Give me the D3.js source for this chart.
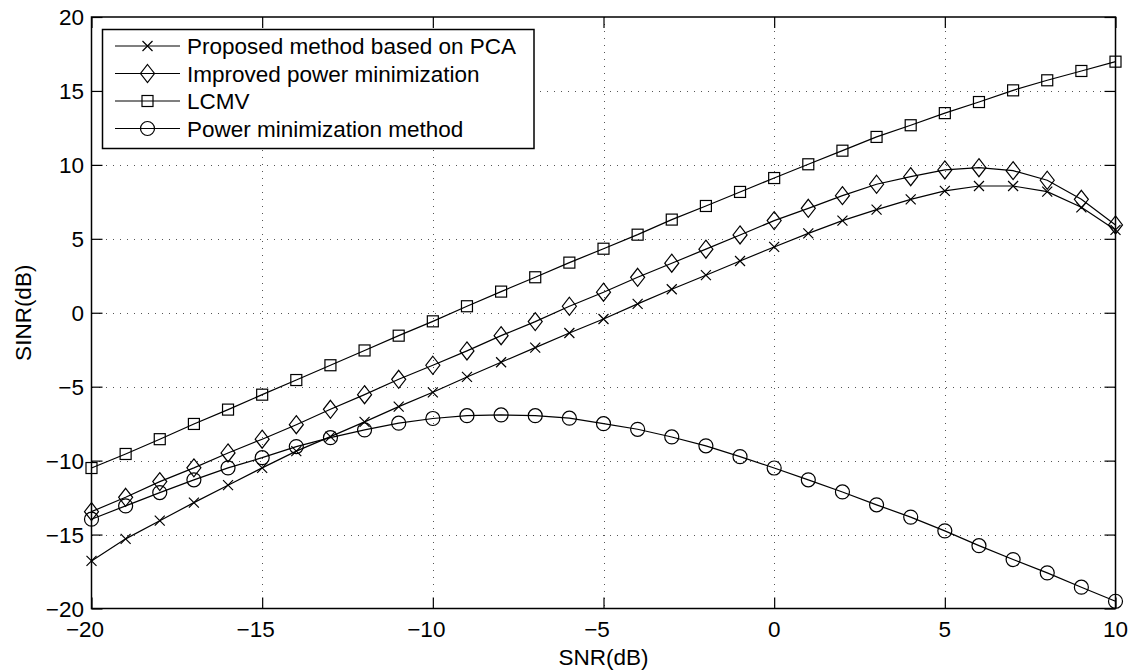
<!DOCTYPE html>
<html>
    <head>
        <meta charset="utf-8" />
        <title>SINR vs SNR</title>
        <script src="https://d3js.org/d3.v7.min.js"></script>
        <style>
         body { margin: 0; background: #fff; }
         svg { font-family: "Liberation Sans", Arial, Helvetica, sans-serif; }
         .grid line { stroke: #555; stroke-width: 1; stroke-dasharray: 1,6; shape-rendering: crispEdges; }
         .series { fill: none; stroke: #000; stroke-width: 1.2; }
         .marker { fill: none; stroke: #000; stroke-width: 1.2; }
        </style>
    </head>
    <body>
        <svg id="chart" width="1136" height="670"></svg>
        <script>

         // SNR values (x axis)
         var snr = d3.range(-20, 11, 1);

         var proposedPCA = [-16.78, -15.29, -14.06, -12.84, -11.66, -10.49, -9.36, -8.38, -7.38, -6.35,
                            -5.38, -4.34, -3.35, -2.36, -1.37, -0.42, 0.6, 1.59, 2.54, 3.5,
                            4.45, 5.37, 6.23, 6.97, 7.67, 8.24, 8.57, 8.57, 8.19, 7.13, 5.6];

         var improvedPowerMin = [-13.45, -12.48, -11.42, -10.49, -9.48, -8.55, -7.57, -6.53, -5.54, -4.5,
                                 -3.55, -2.58, -1.55, -0.6, 0.44, 1.39, 2.4, 3.35, 4.3, 5.26,
                                 6.23, 7.06, 7.92, 8.69, 9.2, 9.66, 9.81, 9.61, 8.96, 7.67, 5.94];

         var lcmv = [-10.5, -9.55, -8.55, -7.52, -6.55, -5.54, -4.55, -3.55, -2.55, -1.55,
                     -0.58, 0.44, 1.43, 2.4, 3.39, 4.33, 5.28, 6.3, 7.22, 8.17,
                     9.11, 10.04, 10.96, 11.89, 12.68, 13.5, 14.25, 15.04, 15.72, 16.35, 16.98];

         var powerMin = [-13.96, -13.06, -12.16, -11.3, -10.49, -9.8, -9.05, -8.45, -7.92, -7.47,
                         -7.15, -6.96, -6.91, -6.96, -7.13, -7.5, -7.88, -8.4, -9.0, -9.73,
                         -10.5, -11.3, -12.12, -12.99, -13.82, -14.75, -15.75, -16.69, -17.59, -18.56, -19.51];

         var seriesNames = ["Proposed method based on PCA", "Improved power minimization", "LCMV", "Power minimization method"];
         var seriesMarkers = ["x", "d", "s", "o"];
         var seriesValues = [proposedPCA, improvedPowerMin, lcmv, powerMin];

         var xTicks = [-20, -15, -10, -5, 0, 5, 10];
         var yTicks = [-20, -15, -10, -5, 0, 5, 10, 15, 20];

         var svg = d3.select("#chart"),
             width = +svg.attr("width"),
             height = +svg.attr("height"),
             margin = {top: 17, right: 20.5, bottom: 61.5, left: 91.5},
             fontSize = 22.5;

         var x = d3.scaleLinear().domain([-20, 10]).range([margin.left, width - margin.right]);
         var y = d3.scaleLinear().domain([-20, 20]).range([height - margin.bottom, margin.top]);

         var x0 = x.range()[0], x1 = x.range()[1],
             y0 = y.range()[0], y1 = y.range()[1];

         // dotted grid
         var grid = svg.append("g").attr("class", "grid");
         grid.selectAll(".gx")
             .data(xTicks.filter(function(d) { return d > -20 && d < 10; }))
             .enter().append("line")
             .attr("x1", function(d) { return Math.round(x(d)) + 0.5; })
             .attr("x2", function(d) { return Math.round(x(d)) + 0.5; })
             .attr("y1", y1).attr("y2", y0);
         grid.selectAll(".gy")
             .data(yTicks.filter(function(d) { return d > -20 && d < 20; }))
             .enter().append("line")
             .attr("y1", function(d) { return Math.round(y(d)) + 0.5; })
             .attr("y2", function(d) { return Math.round(y(d)) + 0.5; })
             .attr("x1", x0).attr("x2", x1);

         // axes: inward ticks on all four sides
         var tickLen = 11;
         svg.append("g")
            .attr("transform", "translate(0," + y0 + ")")
            .call(d3.axisBottom(x).tickValues(xTicks).tickSizeInner(-tickLen).tickSizeOuter(0).tickFormat(""));
         svg.append("g")
            .attr("transform", "translate(0," + y1 + ")")
            .call(d3.axisTop(x).tickValues(xTicks).tickSizeInner(-tickLen).tickSizeOuter(0).tickFormat(""));
         svg.append("g")
            .attr("transform", "translate(" + x0 + ",0)")
            .call(d3.axisLeft(y).tickValues(yTicks).tickSizeInner(-tickLen).tickSizeOuter(0).tickFormat(""));
         svg.append("g")
            .attr("transform", "translate(" + x1 + ",0)")
            .call(d3.axisRight(y).tickValues(yTicks).tickSizeInner(-tickLen).tickSizeOuter(0).tickFormat(""));
         svg.selectAll(".domain").remove();
         svg.selectAll(".tick line").attr("stroke", "#000").attr("stroke-width", 1.2);

         svg.append("rect")
            .attr("x", x0).attr("y", y1)
            .attr("width", x1 - x0).attr("height", y0 - y1)
            .attr("fill", "none").attr("stroke", "#000").attr("stroke-width", 1.5);

         function fmt(d) { return d < 0 ? "\u2212" + Math.abs(d) : String(d); }

         svg.append("g").selectAll("text")
            .data(xTicks).enter().append("text")
            .attr("x", function(d) { return x(d) + (d < 0 ? -6.5 : 0); })
            .attr("y", y0 + 28.5)
            .attr("text-anchor", "middle")
            .attr("font-size", fontSize)
            .text(fmt);

         svg.append("g").selectAll("text")
            .data(yTicks).enter().append("text")
            .attr("x", x0 - 7.5)
            .attr("y", function(d) { return y(d); })
            .attr("dy", "0.36em")
            .attr("text-anchor", "end")
            .attr("font-size", fontSize)
            .text(fmt);

         svg.append("text")
            .attr("x", (x0 + x1) / 2)
            .attr("y", 664.5)
            .attr("text-anchor", "middle")
            .attr("font-size", fontSize)
            .text("SNR(dB)");

         svg.append("text")
            .attr("transform", "translate(31," + (y0 + y1) / 2 + ") rotate(-90)")
            .attr("text-anchor", "middle")
            .attr("font-size", fontSize)
            .text("SINR(dB)");

         // marker drawing
         function drawMarker(sel, type) {
             if (type === "x") {
                 sel.append("path").attr("class", "marker").attr("d", "M-5,-5L5,5M-5,5L5,-5");
             } else if (type === "d") {
                 sel.append("path").attr("class", "marker").attr("d", "M0,-9L7,0L0,9L-7,0Z");
             } else if (type === "s") {
                 sel.append("rect").attr("class", "marker").attr("x", -5.5).attr("y", -5.5).attr("width", 11).attr("height", 11);
             } else {
                 sel.append("circle").attr("class", "marker").attr("r", 7);
             }
         }

         var line = d3.line()
                      .x(function(d) { return x(d[0]); })
                      .y(function(d) { return y(d[1]); });

         seriesValues.forEach(function(vals, i) {
             var pts = snr.map(function(s, j) { return [s, vals[j]]; });
             var g = svg.append("g");
             g.append("path").attr("class", "series").attr("d", line(pts));
             g.selectAll(".pt")
              .data(pts).enter().append("g")
              .attr("transform", function(d) { return "translate(" + x(d[0]) + "," + y(d[1]) + ")"; })
              .each(function() { drawMarker(d3.select(this), seriesMarkers[i]); });
         });

         // legend
         var legend = svg.append("g");
         legend.append("rect")
               .attr("x", 102.5).attr("y", 29.5)
               .attr("width", 431.5).attr("height", 119)
               .attr("fill", "#fff").attr("stroke", "#000").attr("stroke-width", 1.5);

         var rowY = [46, 73.5, 101, 128.5];
         seriesNames.forEach(function(name, i) {
             var row = legend.append("g").attr("transform", "translate(0," + rowY[i] + ")");
             row.append("line")
                .attr("x1", 115).attr("x2", 180)
                .attr("y1", 0).attr("y2", 0)
                .attr("stroke", "#000").attr("stroke-width", 1.2);
             drawMarker(row.append("g").attr("transform", "translate(147.5,0)"), seriesMarkers[i]);
             row.append("text")
                .attr("x", 187).attr("y", 0).attr("dy", "0.36em")
                .attr("font-size", fontSize)
                .text(name);
         });

        </script>
    </body>
</html>
